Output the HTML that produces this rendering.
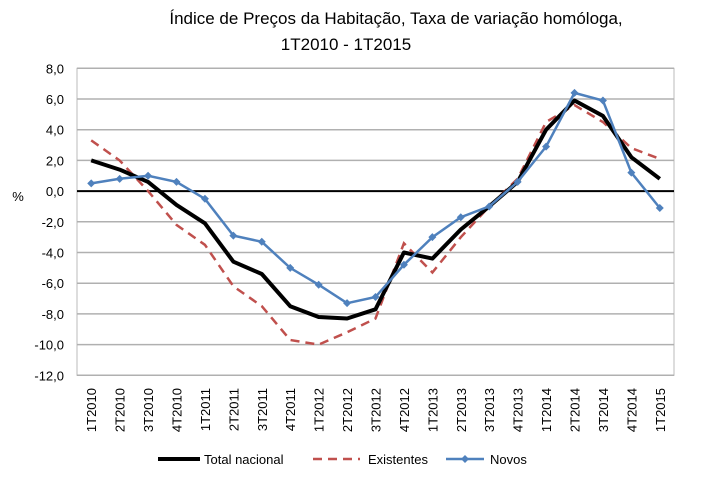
<!DOCTYPE html>
<html><head><meta charset="utf-8">
<style>
body{margin:0;background:#fff;}
svg text{font-family:"Liberation Sans",sans-serif;fill:#000;}
</style></head>
<body>
<svg id="chart" width="712" height="480" viewBox="0 0 712 480" xmlns="http://www.w3.org/2000/svg">
<text x="396" y="24" font-size="17" text-anchor="middle">Índice de Preços da Habitação, Taxa de variação homóloga,</text>
<text x="346" y="50" font-size="17" text-anchor="middle">1T2010 - 1T2015</text>
<text x="18" y="201" font-size="13" text-anchor="middle">%</text>
<rect x="77" y="68.3" width="597" height="307" fill="none" stroke="#bbb" stroke-width="1"/>
<g id="grid"></g><g id="yticks"></g><g id="xticks"></g><g id="series"></g>
<g>
 <g><line x1="158" y1="459" x2="200" y2="459" stroke="#000" stroke-width="4"/><text x="204" y="464" font-size="13">Total nacional</text></g>
 <g><line x1="313" y1="459" x2="360" y2="459" stroke="#c0504d" stroke-width="2.5" stroke-dasharray="9,6"/><text x="368" y="464" font-size="13">Existentes</text></g>
 <g><line x1="446" y1="459" x2="484" y2="459" stroke="#4f81bd" stroke-width="2.5"/><path d="M465 455 L469 459 L465 463 L461 459Z" fill="#4f81bd"/><text x="490" y="464" font-size="13">Novos</text></g>
</g>
</svg>
<script>
const categories=["1T2010","2T2010","3T2010","4T2010","1T2011","2T2011","3T2011","4T2011","1T2012","2T2012","3T2012","4T2012","1T2013","2T2013","3T2013","4T2013","1T2014","2T2014","3T2014","4T2014","1T2015"];
const totalNacional=[2.0,1.4,0.6,-0.9,-2.1,-4.6,-5.4,-7.5,-8.2,-8.3,-7.7,-4.0,-4.4,-2.5,-1.0,0.6,4.0,5.9,4.9,2.2,0.8];
const existentes=[3.3,2.0,0.0,-2.2,-3.5,-6.2,-7.5,-9.7,-10.0,-9.2,-8.3,-3.4,-5.3,-3.0,-1.0,0.8,4.5,5.6,4.5,2.8,2.1];
const novos=[0.5,0.8,1.0,0.6,-0.5,-2.9,-3.3,-5.0,-6.1,-7.3,-6.9,-4.8,-3.0,-1.7,-1.0,0.6,2.9,6.4,5.9,1.2,-1.1];
const yTicks=[8,6,4,2,0,-2,-4,-6,-8,-10,-12];
const NS="http://www.w3.org/2000/svg";
const X0=77,W=597,Y0=68.3,H=307,YMAX=8,YMIN=-12;
const xs=i=>X0+W/categories.length*(i+0.5);
const ys=v=>Y0+(YMAX-v)/(YMAX-YMIN)*H;
function mk(tag,attrs,parent){const e=document.createElementNS(NS,tag);for(const k in attrs)e.setAttribute(k,attrs[k]);parent.appendChild(e);return e;}
const grid=document.getElementById('grid'),yt=document.getElementById('yticks'),xt=document.getElementById('xticks'),se=document.getElementById('series');
yTicks.forEach(v=>{
 if(v!==0){const l=mk('line',{x1:X0,x2:X0+W,y1:ys(v),y2:ys(v),stroke:'#b0b0b0','stroke-width':1.5},grid);
 
 }
 const t=mk('text',{x:64,y:ys(v)+5,'font-size':13,'text-anchor':'end'},yt);
 
 
 t.textContent=v.toFixed(1).replace('.',',');
});
const zl=mk('line',{x1:X0,x2:X0+W,y1:ys(0),y2:ys(0),stroke:'#000','stroke-width':2},grid);


categories.forEach((c,i)=>{
 const t=mk('text',{x:0,y:0,'font-size':13,'text-anchor':'end',transform:`translate(${xs(i)+5},388) rotate(-90)`},xt);
 
 
 t.textContent=c;
});
function pts(arr){return arr.map((v,i)=>xs(i).toFixed(1)+','+ys(v).toFixed(1)).join(' ');}
const pe=mk('polyline',{points:pts(existentes),fill:'none',stroke:'#c0504d','stroke-width':2.5,'stroke-dasharray':'9,6'},se);


const pt=mk('polyline',{points:pts(totalNacional),fill:'none',stroke:'#000','stroke-width':4,'stroke-linejoin':'round'},se);


const pn=mk('polyline',{points:pts(novos),fill:'none',stroke:'#4f81bd','stroke-width':2.5},se);


novos.forEach((v,i)=>{
 const x=xs(i),y=ys(v);
 const m=mk('path',{d:`M${x} ${y-4}L${x+4} ${y}L${x} ${y+4}L${x-4} ${y}Z`,fill:'#4f81bd'},se);
 
 
});
</script>
</body></html>
